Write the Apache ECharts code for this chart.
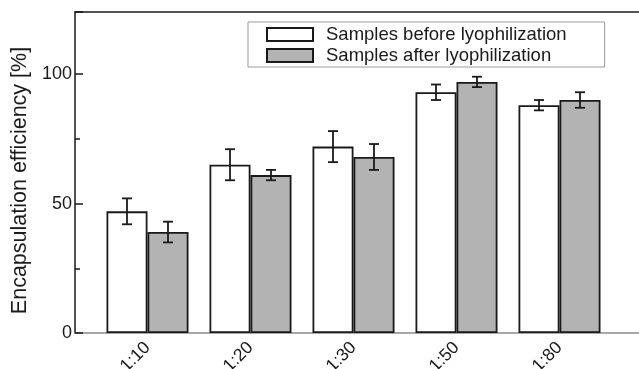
<!DOCTYPE html>
<html>
<head>
<meta charset="utf-8">
<script src="https://cdn.jsdelivr.net/npm/echarts@6/dist/echarts.min.js"></script>
<style>
  html, body { margin: 0; padding: 0; background: #fff; }
  #chart { width: 639px; height: 369px; }
</style>
</head>
<body>
<div id="chart"></div>
<script>
// data
const categories = ['1:10', '1:20', '1:30', '1:50', '1:80'];
const beforeValues = [47, 65, 72, 93, 88];
const beforeErrors = [5, 6, 6, 3, 2];
const afterValues = [39, 61, 68, 97, 90];
const afterErrors = [4, 2, 5, 2, 3];
const yLabelValues = [0, 50, 100];

var fontFam = 'Liberation Sans, Arial, sans-serif';
var textColor = '#1a1a1a';
var barW = 41;
var yMax = 124;

function errorSeries(name, values, errors, shift) {
  return {
    type: 'custom',
    name: name + ' err',
    xAxisIndex: 2,
    yAxisIndex: 2,
    silent: true,
    z: 5,
    data: values.map(function (v, i) { return [i, v, errors[i]]; }),
    renderItem: function (params, api) {
      var i = api.value(0), v = api.value(1), e = api.value(2);
      var hi = api.coord([i, v + e]);
      var lo = api.coord([i, v - e]);
      var x = hi[0] + shift;
      var cap = 5;
      var st = { stroke: '#1a1a1a', lineWidth: 1.8 };
      return {
        type: 'group',
        children: [
          { type: 'line', shape: { x1: x, y1: hi[1], x2: x, y2: lo[1] }, style: st },
          { type: 'line', shape: { x1: x - cap, y1: hi[1], x2: x + cap, y2: hi[1] }, style: st },
          { type: 'line', shape: { x1: x - cap, y1: lo[1], x2: x + cap, y2: lo[1] }, style: st }
        ]
      };
    }
  };
}

var chart = echarts.init(document.getElementById('chart'));
chart.setOption({
  animation: false,
  textStyle: { fontFamily: fontFam },
  legend: {
    orient: 'vertical',
    left: 248,
    top: 22,
    padding: [3, 38, 2, 18],
    itemGap: 2,
    itemWidth: 46,
    itemHeight: 13,
    icon: 'rect',
    backgroundColor: '#fff',
    borderColor: '#9a9a9a',
    borderWidth: 1,
    borderRadius: 0,
    textStyle: { fontSize: 18.5, color: textColor, padding: [0, 0, 0, 8] },
    data: ['Samples before lyophilization', 'Samples after lyophilization']
  },
  grid: [
    { left: 75, right: 0, top: 12, bottom: 36, outerBoundsMode: 'none' },
    { left: 96, right: 28, top: 12, bottom: 36, outerBoundsMode: 'none' }
  ],
  xAxis: [
    { // frame bottom
      type: 'value', gridIndex: 0, position: 'bottom', min: 0, max: 1,
      axisLine: { show: true, onZero: false, lineStyle: { color: '#8a8a8a', width: 1.5 } },
      axisTick: { show: false }, axisLabel: { show: false }, splitLine: { show: false }
    },
    { // frame top
      type: 'value', gridIndex: 0, position: 'top', min: 0, max: 1,
      axisLine: { show: true, onZero: false, lineStyle: { color: '#1a1a1a', width: 1.5 } },
      axisTick: { show: false }, axisLabel: { show: false }, splitLine: { show: false }
    },
    { // categories
      type: 'category', gridIndex: 1, data: categories,
      axisLine: { show: false, onZero: false }, axisTick: { show: false },
      axisLabel: {
        rotate: 45, fontSize: 17.5, color: textColor, margin: 12, interval: 0
      }
    }
  ],
  yAxis: [
    {
      type: 'value', gridIndex: 0, min: 0, max: yMax, interval: 50,
      name: 'Encapsulation efficiency [%]',
      nameLocation: 'middle', nameGap: 43,
      nameTextStyle: { fontSize: 21.5, color: textColor, padding: [0, 16, 0, 0] },
      axisLine: { show: true, onZero: false, lineStyle: { color: '#1a1a1a', width: 1.5 } },
      axisTick: { show: true, inside: true, length: 8, lineStyle: { color: '#1a1a1a', width: 1.5 } },
      axisLabel: {
        fontSize: 18, color: textColor, margin: 3,
        formatter: function (v) { return yLabelValues.indexOf(v) >= 0 ? String(v) : ''; }
      },
      splitLine: { show: false }
    },
    { // minor ticks
      type: 'value', gridIndex: 0, min: 0, max: yMax, interval: 25, position: 'left',
      axisLine: { show: false },
      axisTick: { show: true, inside: true, length: 5, lineStyle: { color: '#1a1a1a', width: 1.5 } },
      axisLabel: { show: false }, splitLine: { show: false }
    },
    {
      type: 'value', gridIndex: 1, min: 0, max: yMax, show: false
    }
  ],
  series: [
    {
      type: 'bar', name: 'Samples before lyophilization',
      xAxisIndex: 2, yAxisIndex: 2,
      data: beforeValues, barWidth: barW, barGap: '0%',
      itemStyle: { color: '#ffffff', borderColor: '#1a1a1a', borderWidth: 1.8 }
    },
    {
      type: 'bar', name: 'Samples after lyophilization',
      xAxisIndex: 2, yAxisIndex: 2,
      data: afterValues, barWidth: barW, barGap: '0%',
      itemStyle: { color: '#b3b3b3', borderColor: '#1a1a1a', borderWidth: 1.8 }
    },
    errorSeries('before', beforeValues, beforeErrors, -barW / 2),
    errorSeries('after', afterValues, afterErrors, barW / 2)
  ]
});
</script>
</body>
</html>
